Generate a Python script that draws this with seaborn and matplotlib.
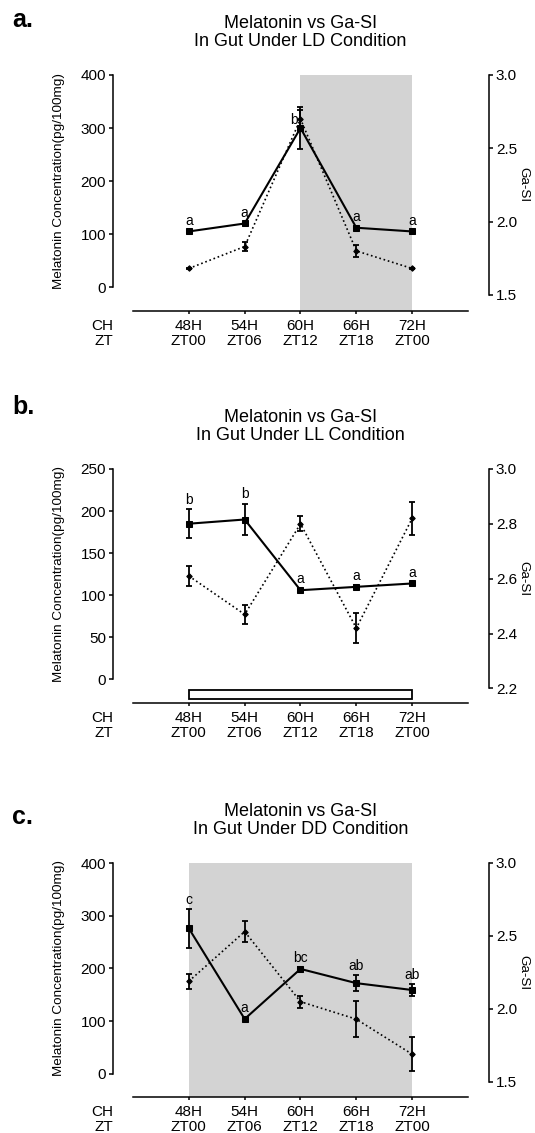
import matplotlib
matplotlib.use("Agg")
import matplotlib.pyplot as plt
import matplotlib.transforms as mtransforms
from matplotlib.patches import Rectangle
import pandas as pd
import seaborn as sns

# time points
hours = ["48H", "54H", "60H", "66H", "72H"]
zt = ["ZT00", "ZT06", "ZT12", "ZT18", "ZT00"]

# LD condition
mel_ld = [105, 120, 300, 112, 105]
mel_ld_err = [3, 3, 40, 4, 3]
gasi_ld = [1.68, 1.83, 2.70, 1.80, 1.68]
gasi_ld_err = [0.005, 0.03, 0.06, 0.04, 0.005]
letters_ld = ["a", "a", "b", "a", "a"]

# LL condition
mel_ll = [185, 190, 106, 110, 114]
mel_ll_err = [17, 19, 2, 2, 2]
gasi_ll = [2.61, 2.47, 2.80, 2.42, 2.82]
gasi_ll_err = [0.036, 0.035, 0.027, 0.056, 0.06]
letters_ll = ["b", "b", "a", "a", "a"]

# DD condition
mel_dd = [276, 104, 199, 172, 159]
mel_dd_err = [37, 3, 3, 15, 12]
gasi_dd = [2.19, 2.53, 2.05, 1.93, 1.69]
gasi_dd_err = [0.05, 0.07, 0.04, 0.125, 0.115]
letters_dd = ["c", "a", "bc", "ab", "ab"]

panels = [
    dict(tag="a.", cond="LD", mel=mel_ld, mel_err=mel_ld_err, gasi=gasi_ld,
         gasi_err=gasi_ld_err, letters=letters_ld, dark=("60H", "72H"), light=None,
         ylim=(-45, 400), yticks=[0, 100, 200, 300, 400],
         ylim2=(1.39, 3.0), yticks2=[1.5, 2.0, 2.5, 3.0], fmt2="{:.1f}",
         top=75, bottom=311, tag_y=20),
    dict(tag="b.", cond="LL", mel=mel_ll, mel_err=mel_ll_err, gasi=gasi_ll,
         gasi_err=gasi_ll_err, letters=letters_ll, dark=None, light=("48H", "72H"),
         ylim=(-28, 250), yticks=[0, 50, 100, 150, 200, 250],
         ylim2=(2.147, 3.0), yticks2=[2.2, 2.4, 2.6, 2.8, 3.0], fmt2="{:.1f}",
         top=469, bottom=703, tag_y=407),
    dict(tag="c.", cond="DD", mel=mel_dd, mel_err=mel_dd_err, gasi=gasi_dd,
         gasi_err=gasi_dd_err, letters=letters_dd, dark=("48H", "72H"), light=None,
         ylim=(-44, 400), yticks=[0, 100, 200, 300, 400],
         ylim2=(1.397, 3.0), yticks2=[1.5, 2.0, 2.5, 3.0], fmt2="{:.1f}",
         top=863, bottom=1097, tag_y=817),
]

sns.set_style("ticks")
plt.rcParams["font.family"] = ["Liberation Sans", "DejaVu Sans"]
plt.rcParams["text.color"] = "black"
plt.rcParams["axes.labelcolor"] = "black"
plt.rcParams["xtick.color"] = "black"
plt.rcParams["ytick.color"] = "black"

W, H = 535, 1133
fig = plt.figure(figsize=(W / 100, H / 100), dpi=100)

left_px, right_px = 133, 468

for p in panels:
    ax = fig.add_axes([left_px / W, 1 - p["bottom"] / H,
                       (right_px - left_px) / W, (p["bottom"] - p["top"]) / H])
    df = pd.DataFrame({"pos": range(len(hours)), "mel": p["mel"], "gasi": p["gasi"]})

    if p["dark"]:
        ax.axvspan(hours.index(p["dark"][0]), hours.index(p["dark"][1]),
                   color="#d3d3d3", lw=0, zorder=0)

    sns.lineplot(data=df, x="pos", y="mel", ax=ax, color="black", lw=1.5,
                 marker="s", markersize=4.5, markeredgecolor="black", zorder=4)
    ax.errorbar(df["pos"], df["mel"], yerr=p["mel_err"], fmt="none", ecolor="black",
                elinewidth=1.3, capsize=2.5, capthick=1.3, zorder=4)

    # significance letters
    for i, (lab, m, e) in enumerate(zip(p["letters"], p["mel"], p["mel_err"])):
        if p["cond"] == "LD" and hours[i] == "60H":
            ax.annotate(lab, (i, m), xytext=(-2, 6), textcoords="offset points",
                        ha="right", va="center", fontsize=10, zorder=6)
        else:
            ax.annotate(lab, (i, m + e), xytext=(0, 1.5), textcoords="offset points",
                        ha="center", va="bottom", fontsize=10, zorder=6)

    ax.set_xlim(-1, len(hours))
    ax.set_ylim(*p["ylim"])
    ax.set_yticks(p["yticks"])
    ax.set_xticks(range(len(hours)))
    ax.set_xticklabels([f"{h}\n{z}" for h, z in zip(hours, zt)], fontsize=11,
                       linespacing=1.15)
    ax.tick_params(axis="x", length=2.5, width=1.1, pad=3)
    ax.tick_params(axis="y", length=3, width=1.1, pad=2, labelsize=11)
    for s in ["top", "right"]:
        ax.spines[s].set_visible(False)
    ax.spines["left"].set_position(("outward", 14.4))
    ax.spines["left"].set_bounds(p["yticks"][0], p["yticks"][-1])
    for s in ["left", "bottom"]:
        ax.spines[s].set_linewidth(1.1)
        ax.spines[s].set_color("black")

    ax.set_xlabel("")
    ax.set_ylabel("Melatonin Concentration(pg/100mg)", fontsize=9.7)
    y0, y1 = p["ylim"]
    ymid = ((p["yticks"][0] + p["yticks"][-1]) / 2 - y0) / (y1 - y0)
    ax.yaxis.set_label_coords((65 - left_px) / (right_px - left_px), ymid)

    ax.annotate("CH\nZT", (0, 0), xycoords="axes fraction", xytext=(-14.4, -5.5),
                textcoords="offset points", ha="right", va="top", fontsize=11,
                linespacing=1.15)

    ax.set_title(f"Melatonin vs Ga-SI\nIn Gut Under {p['cond']} Condition",
                 fontsize=13, linespacing=1.1, pad=21)

    if p["light"]:
        trans = mtransforms.blended_transform_factory(ax.transData, ax.transAxes)
        x0 = hours.index(p["light"][0])
        x1 = hours.index(p["light"][1])
        ax.add_patch(Rectangle((x0, 0.019), x1 - x0, 0.036, transform=trans,
                               facecolor="white", edgecolor="black", lw=1.3,
                               clip_on=False, zorder=3))

    # Ga-SI on the right axis
    ax2 = ax.twinx()
    sns.lineplot(data=df, x="pos", y="gasi", ax=ax2, color="black", lw=1.2,
                 linestyle=":", marker="D", markersize=2.8, markeredgecolor="black")
    ax2.errorbar(df["pos"], df["gasi"], yerr=p["gasi_err"], fmt="none", ecolor="black",
                 elinewidth=1.3, capsize=2.5, capthick=1.3)
    ax2.set_ylim(*p["ylim2"])
    ax2.set_yticks(p["yticks2"])
    ax2.set_yticklabels([p["fmt2"].format(v) for v in p["yticks2"]])
    ax2.tick_params(axis="y", length=3, width=1.1, pad=2, labelsize=11)
    for s in ["top", "left", "bottom"]:
        ax2.spines[s].set_visible(False)
    ax2.spines["right"].set_position(("outward", 15.1))
    ax2.spines["right"].set_bounds(p["yticks2"][0], p["yticks2"][-1])
    ax2.spines["right"].set_linewidth(1.1)
    ax2.spines["right"].set_color("black")
    ax2.set_xlabel("")
    ax2.set_ylabel("Ga-SI", fontsize=9.7, rotation=270, va="center", ha="center")
    z0, z1 = p["ylim2"]
    zmid = ((p["yticks2"][0] + p["yticks2"][-1]) / 2 - z0) / (z1 - z0)
    ax2.yaxis.set_label_coords((523 - left_px) / (right_px - left_px), zmid)

    fig.text(12 / W, 1 - p["tag_y"] / H, p["tag"], fontsize=18, fontweight="bold",
             ha="left", va="center")

fig.savefig("out.png", dpi=100)
